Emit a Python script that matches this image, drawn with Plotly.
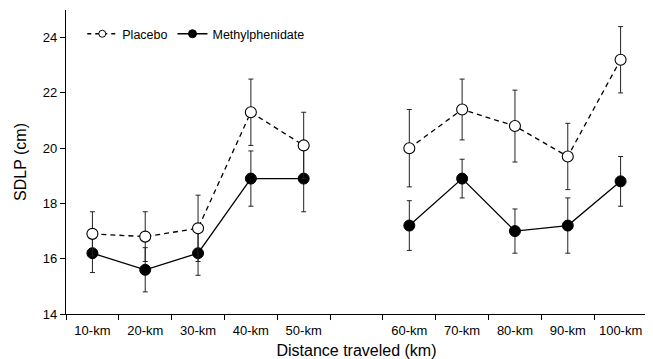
import plotly.graph_objects as go

categories = ["10-km", "20-km", "30-km", "40-km", "50-km", " ", "60-km", "70-km", "80-km", "90-km", "100-km"]
placebo = [16.9, 16.8, 17.1, 21.3, 20.1, None, 20.0, 21.4, 20.8, 19.7, 23.2]
placebo_err = [0.8, 0.9, 1.2, 1.2, 1.2, None, 1.4, 1.1, 1.3, 1.2, 1.2]
methyl = [16.2, 15.6, 16.2, 18.9, 18.9, None, 17.2, 18.9, 17.0, 17.2, 18.8]
methyl_err = [0.7, 0.8, 0.8, 1.0, 1.2, None, 0.9, 0.7, 0.8, 1.0, 0.9]
y_ticks = [14, 16, 18, 20, 22, 24]

FONT = "Liberation Sans, Arial, Helvetica, sans-serif"
DASH = "5px,4px"

fig = go.Figure()
fig.add_trace(go.Scatter(
    x=categories, y=methyl, name="Methylphenidate", mode="lines+markers",
    line=dict(color="black", width=1.3), connectgaps=False, showlegend=False,
    marker=dict(size=11, color="black", line=dict(color="black", width=1)),
    error_y=dict(type="data", array=methyl_err, color="#222", thickness=1, width=2.5),
))
fig.add_trace(go.Scatter(
    x=categories, y=placebo, name="Placebo", mode="lines+markers",
    line=dict(color="black", width=1.3, dash=DASH), connectgaps=False, showlegend=False,
    marker=dict(size=11, color="white", line=dict(color="black", width=1.1)),
    error_y=dict(type="data", array=placebo_err, color="#222", thickness=1, width=2.5),
))
# legend entries with the small symbols used in the reference legend
fig.add_trace(go.Scatter(
    x=[None], y=[None], name="Placebo", mode="lines+markers",
    line=dict(color="black", width=1.3, dash="4px,4px"),
    marker=dict(size=7, color="white", line=dict(color="black", width=1)),
))
fig.add_trace(go.Scatter(
    x=[None], y=[None], name="Methylphenidate", mode="lines+markers",
    line=dict(color="black", width=1.3),
    marker=dict(size=8, color="black", line=dict(color="black", width=1)),
))

# the page body adds an 8px margin, so the figure is 8px smaller than the window
fig.update_layout(
    width=645, height=351,
    margin=dict(l=58, r=6, t=2, b=45),
    plot_bgcolor="white", paper_bgcolor="white",
    font=dict(family=FONT, size=13, color="black"),
    showlegend=True,
    legend=dict(orientation="h", x=0.028, y=0.97, xanchor="left", yanchor="top",
                font=dict(size=12.5), itemwidth=30,
                bgcolor="rgba(0,0,0,0)"),
    xaxis=dict(
        type="category", categoryorder="array", categoryarray=categories,
        range=[-0.5, 10.5], tickson="boundaries", ticks="outside", ticklen=5,
        tickcolor="black", showline=True, linecolor="black", linewidth=1.2,
        showgrid=False, zeroline=False, automargin=False, ticklabelstandoff=4,
        title=dict(text="Distance traveled (km)", font=dict(size=16), standoff=10),
    ),
    yaxis=dict(
        range=[14, 25], tickvals=y_ticks, ticks="outside", ticklen=5,
        tickcolor="black", showline=True, linecolor="black", linewidth=1.2,
        showgrid=False, zeroline=False, automargin=False,
        title=dict(text="SDLP (cm)", font=dict(size=16), standoff=12),
    ),
)

fig.write_html("out.html")
